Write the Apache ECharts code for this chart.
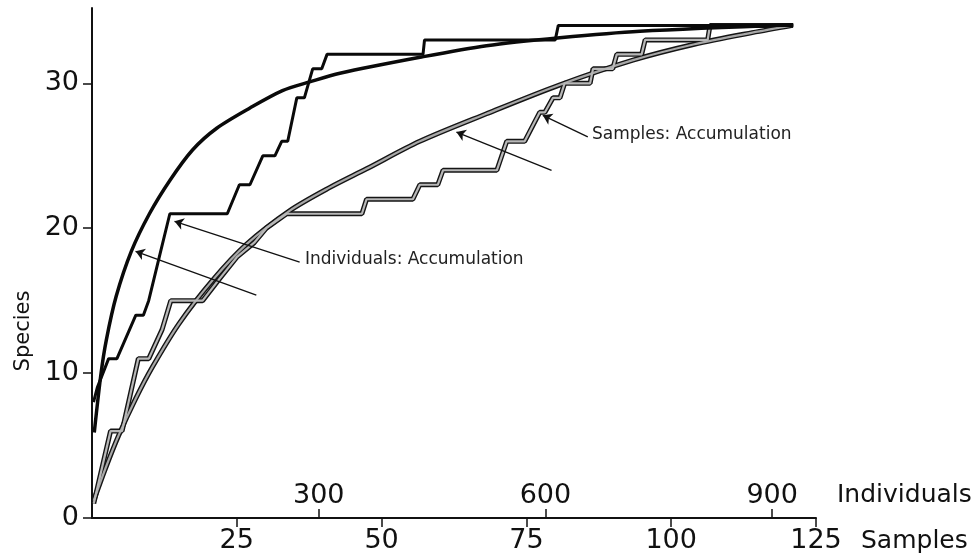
<!DOCTYPE html>
<html>
<head>
<meta charset="utf-8">
<title>Species accumulation</title>
<script src="https://cdn.jsdelivr.net/npm/echarts@6/dist/echarts.min.js"></script>
<style>
html, body { margin: 0; padding: 0; background: #fff; }
#chart { width: 976px; height: 559px; }
</style>
</head>
<body>
<div id="chart"></div>
<script>
// tick values
const sampleTicks = [25, 50, 75, 100, 125];
const individualTicks = [300, 600, 900];
const speciesTicks = [0, 10, 20, 30];

// individual based curves: [individuals, species]
const indRarefaction = [
  [3, 5.9], [12, 10.0], [19, 12.3], [32, 15.3], [52, 18.4], [76, 21.0],
  [103, 23.3], [133, 25.4], [165, 26.9], [209, 28.3], [252, 29.5],
  [288, 30.1], [328, 30.7], [434, 31.8], [522, 32.6], [619, 33.15],
  [725, 33.6], [928, 34.05]
];
const indAccumulation = [
  [2, 8], [7, 9], [22, 11], [33, 11], [58, 14], [68, 14], [75, 15],
  [89, 18], [103, 21], [179, 21], [195, 23], [209, 23], [226, 25],
  [242, 25], [251, 26], [259, 26], [271, 29], [281, 29], [292, 31],
  [304, 31], [311, 32], [438, 32], [440, 33], [613, 33], [617, 34],
  [928, 34]
];

// sample based curves: [samples, species]
const smpRarefaction = [
  [0.3, 1.2], [2.3, 3.4], [4.6, 5.7], [7.5, 8.2], [10.4, 10.4], [15, 13.4],
  [20.8, 16.4], [26.7, 18.9], [34.1, 21.2], [41, 22.8], [47.4, 24.1],
  [56.6, 26.0], [68.1, 27.9], [80.8, 29.9], [93.4, 31.6], [104, 32.7],
  [114, 33.5], [121, 34.0]
];
const smpAccumulation = [
  [0.3, 1], [3.2, 6], [5.2, 6], [8, 11], [9.8, 11], [12.1, 13], [13.6, 15],
  [19.1, 15], [22, 16.5], [25, 18], [28, 19], [30.1, 20], [33.6, 21],
  [46.6, 21], [47.4, 22], [55.4, 22], [56.6, 23], [59.7, 23], [60.6, 24],
  [69.9, 24], [71.6, 26], [74.7, 26], [77.3, 28], [78.2, 28], [79.6, 29],
  [80.8, 29], [81.6, 30], [86, 30], [86.5, 31], [89.9, 31], [90.6, 32],
  [94.9, 32], [95.5, 33], [106.3, 33], [106.7, 34], [121, 34]
];

// pointer arrows, in samples / species units: [tailX, tailY, tipX, tipY]
const arrows = [
  [35.85, 17.66, 14.25, 20.48],
  [28.37, 15.38, 7.52, 18.41],
  [85.6, 26.3, 77.83, 27.79],
  [79.34, 24.0, 62.92, 26.64]
];

const FONT = 'DejaVu Sans';

const myChart = echarts.init(document.getElementById('chart'));

const grayOutline = (data, smooth) => ({
  type: 'line', xAxisIndex: 0, data: data, showSymbol: false, smooth: smooth,
  lineStyle: { color: '#151515', width: 5 }
});

const option = {
  animation: false,
  backgroundColor: '#fff',
  grid: { left: 92, right: 160, top: 8, bottom: 41, outerBoundsMode: 'none' },
  xAxis: [
    {
      type: 'value', position: 'bottom', min: 0, max: 125,
      name: 'Samples', nameLocation: 'end', nameGap: 45,
      nameTextStyle: { fontFamily: FONT, fontSize: 25, color: '#111', verticalAlign: 'top', lineHeight: 46 },
      axisLine: { show: true, lineStyle: { color: '#111', width: 2 } },
      axisTick: { show: true, length: 9, customValues: sampleTicks, lineStyle: { color: '#111', width: 1.5 } },
      axisLabel: { customValues: sampleTicks, margin: 9, fontFamily: FONT, fontSize: 27, color: '#111' },
      splitLine: { show: false }
    },
    {
      type: 'value', position: 'bottom', min: 0, max: 958,
      name: 'Individuals', nameLocation: 'end', nameGap: 21,
      nameTextStyle: { fontFamily: FONT, fontSize: 25, color: '#111', verticalAlign: 'bottom', lineHeight: 46 },
      axisLine: { show: false },
      axisTick: { show: true, inside: true, length: 9, customValues: individualTicks, lineStyle: { color: '#111', width: 1.5 } },
      axisLabel: { inside: true, customValues: individualTicks, margin: 9, fontFamily: FONT, fontSize: 27, color: '#111' },
      splitLine: { show: false }
    }
  ],
  yAxis: {
    type: 'value', min: 0, max: 35.2,
    name: 'Species', nameLocation: 'middle', nameGap: 52,
    nameTextStyle: { fontFamily: FONT, fontSize: 21, color: '#111', padding: [0, 136, 0, 0] },
    axisLine: { show: true, lineStyle: { color: '#111', width: 2 } },
    axisTick: { show: true, length: 9, customValues: speciesTicks, lineStyle: { color: '#111', width: 1.5 } },
    axisLabel: { customValues: speciesTicks, margin: 13, fontFamily: FONT, fontSize: 27, color: '#111' },
    splitLine: { show: false }
  },
  series: [
    grayOutline(smpRarefaction, 0.3),
    grayOutline(smpAccumulation, false),
    {
      type: 'line', xAxisIndex: 0, data: smpRarefaction, showSymbol: false,
      smooth: 0.3,
      lineStyle: { color: '#a8a8a8', width: 2.2 },
      markLine: {
        silent: true, symbol: ['none', 'arrow'], symbolSize: 9,
        label: { show: false },
        lineStyle: { color: '#111', width: 1.3, type: 'solid' },
        data: arrows.map(a => [{ coord: [a[0], a[1]] }, { coord: [a[2], a[3]] }])
      }
    },
    {
      type: 'line', xAxisIndex: 0, data: smpAccumulation, showSymbol: false,
      lineStyle: { color: '#b8b8b8', width: 2.2 }
    },
    {
      type: 'line', xAxisIndex: 1, data: indAccumulation, showSymbol: false,
      lineStyle: { color: '#0a0a0a', width: 3 }
    },
    {
      type: 'line', xAxisIndex: 1, data: indRarefaction, showSymbol: false,
      smooth: 0.3,
      lineStyle: { color: '#0a0a0a', width: 3.5 }
    }
  ],
  graphic: [
    { type: 'text', left: 305, top: 251, style: { text: 'Individuals: Accumulation', font: '17px "DejaVu Sans"', fill: '#222' } },
    { type: 'text', left: 592, top: 126, style: { text: 'Samples: Accumulation', font: '17px "DejaVu Sans"', fill: '#222' } }
  ]
};

myChart.setOption(option);
</script>
</body>
</html>
